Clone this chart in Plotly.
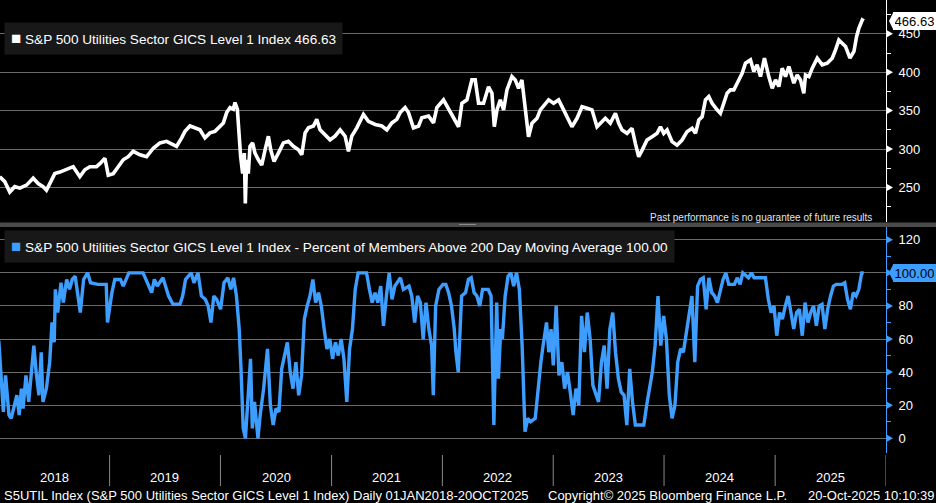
import pandas as pd
import plotly.graph_objects as go

# ---------------- DATA ----------------
# time in years since 2018-01-01 (decimal)
px_t = [0.009,0.054,0.099,0.144,0.190,0.250,0.310,0.355,0.400,0.430,0.460,0.505,0.551,0.611,0.671,0.731,0.776,0.821,0.881,0.912,0.957,0.987,
        1.032,1.077,1.122,1.167,1.212,1.273,1.333,1.393,1.453,1.513,1.573,1.603,1.649,1.679,1.724,1.769,1.814,1.859,1.904,1.949,1.995,
        2.025,2.055,2.085,2.115,2.130,2.151,2.166,2.181,2.199,2.214,2.223,2.235,2.250,2.265,2.289,2.310,2.341,2.371,2.401,2.431,2.452,2.482,2.521,2.566,2.611,2.656,2.702,2.732,2.762,2.792,2.837,2.867,2.897,2.942,2.987,
        3.032,3.078,3.123,3.153,3.183,3.228,3.288,3.333,3.394,3.454,3.499,3.544,3.589,3.619,3.664,3.694,3.739,3.785,3.815,3.875,3.920,3.950,
        4.010,4.055,4.100,4.146,4.176,4.221,4.266,4.296,4.326,4.371,4.416,4.447,4.468,4.492,4.522,4.552,4.582,4.627,4.657,4.687,4.717,4.747,4.777,4.808,4.853,4.883,4.928,4.958,
        5.003,5.048,5.093,5.123,5.168,5.214,5.259,5.304,5.349,5.394,5.424,5.469,5.514,5.560,5.590,5.620,5.665,5.710,5.740,5.770,5.800,5.845,5.891,5.936,5.966,5.996,
        6.026,6.071,6.116,6.161,6.206,6.252,6.282,6.312,6.342,6.372,6.402,6.432,6.477,6.507,6.537,6.567,6.597,6.628,6.658,6.703,6.733,6.778,6.808,6.838,6.868,6.904,6.943,6.974,
        7.004,7.034,7.064,7.094,7.124,7.169,7.199,7.229,7.259,7.274,7.305,7.335,7.380,7.425,7.470,7.515,7.545,7.575,7.605,7.635,7.675,7.711,7.735,7.756,7.786,7.800]
px_v = [264,257.5,244,251,249,253,262,255,251,246.5,255,268,270,273,277,264,273,277,277,281,288,266,
        268,277,286,290,297,292.5,290,301,308,310,306,303.5,314.5,323,330,327.6,325,314.5,321,323,330,
        334,347.4,354,351.8,360.5,351.8,316.7,290,268,294.7,229,286,268,303.5,308,294.7,286,279,299,316.7,299,283.8,294.7,308,310,303.5,299,292.5,321,327.6,330,338.6,325,318.9,312,
        316.7,325,316.7,297,316.7,327.6,345,336,332,330,325,334,338.6,347.4,354,347.4,327.6,330,340.8,343,334,354,
        363.9,353,342,329,359.6,364,390,390,359.6,359.6,381,372.6,329,351,364,351,377,394.3,390,379,390,355,316,333.5,340,351,359.6,364,
        359.6,364,351,342,329,340,355,353,351,329,333.5,340,333.5,346.5,333.5,324.8,320.4,327,307.4,290,298.3,311.7,316,320.4,329,320.4,
        324.8,309.6,305,311.7,322.6,327,320.4,337.8,342,364,368.3,359.6,351,346.5,359.6,372.6,377,377,385.7,398.7,411.7,416,401,409.6,394.3,418.3,394.3,379,
        390,381.3,405.2,394.3,407.4,385.7,396.5,390,372.6,396.5,394.3,405.2,418.3,409.6,411.7,418.3,429,442,437.8,433.5,418.3,427,446.5,457.4,468,466.63]

pct_t = [0.000,0.026,0.041,0.061,0.092,0.112,0.143,0.163,0.184,0.204,0.219,0.245,0.270,0.286,0.316,0.337,0.362,0.383,0.398,0.429,0.459,0.480,0.500,0.510,0.531,0.561,0.582,0.612,0.638,0.663,0.689,0.735,0.765,0.801,0.827,0.893,0.969,0.980,
         1.020,1.046,1.097,1.122,1.173,1.301,1.337,1.378,1.403,1.429,1.480,1.531,1.571,1.633,1.658,1.684,1.735,1.760,1.796,1.827,1.862,1.888,1.913,1.939,1.964,
         2.000,2.031,2.066,2.092,2.117,2.143,2.168,2.184,2.204,2.224,2.245,2.270,2.286,2.306,2.337,2.357,2.388,2.423,2.449,2.474,2.500,2.526,2.551,2.577,2.602,2.628,2.653,2.679,2.704,2.730,2.755,2.781,2.806,2.832,2.857,2.883,2.908,2.934,2.959,2.985,
         3.010,3.036,3.061,3.087,3.112,3.138,3.163,3.189,3.214,3.240,3.316,3.342,3.367,3.393,3.418,3.444,3.469,3.495,3.520,3.546,3.571,3.622,3.648,3.699,3.724,3.750,3.776,3.801,3.827,3.852,3.878,3.903,3.918,3.939,3.969,
         4.005,4.031,4.056,4.082,4.107,4.122,4.143,4.173,4.209,4.235,4.260,4.286,4.311,4.337,4.362,4.413,4.439,4.464,4.490,4.505,4.526,4.541,4.566,4.592,4.617,4.643,4.668,4.694,4.719,4.745,4.770,4.796,4.837,4.857,4.888,4.908,4.939,4.959,4.980,
         5.000,5.026,5.051,5.077,5.102,5.128,5.153,5.179,5.204,5.230,5.255,5.281,5.306,5.332,5.357,5.383,5.408,5.434,5.459,5.485,5.510,5.536,5.561,5.587,5.612,5.638,5.663,5.689,5.714,5.740,5.791,5.816,5.842,5.867,5.893,5.918,5.944,5.969,5.995,
         6.020,6.046,6.071,6.097,6.122,6.148,6.173,6.199,6.224,6.250,6.276,6.301,6.327,6.352,6.378,6.403,6.429,6.454,6.480,6.505,6.531,6.556,6.582,6.633,6.658,6.684,6.709,6.760,6.786,6.811,6.913,6.939,6.964,6.990,
         7.015,7.041,7.066,7.092,7.117,7.143,7.168,7.194,7.219,7.245,7.270,7.296,7.321,7.347,7.372,7.398,7.423,7.449,7.474,7.500,7.526,7.551,7.602,7.628,7.653,7.679,7.704,7.730,7.755,7.781,7.800]
pct_v = [59,28,16,38,14,12,20,26,14,30,18,38,22,36,56,40,26,52,22,30,46,70,58,90,76,94,82,96,90,96,98,76,96,100,94,93,93,70,
         88,96,96,92,100,100,94,88,96,92,97,86,81,81,86,96,100,94,100,86,84,80,70,86,84,
         78,94,97,90,97,86,66,42,6,0,22,48,6,22,0,14,30,54,20,8,18,16,42,50,58,40,30,46,26,38,72,80,86,96,82,88,80,66,54,60,
         48,58,50,60,48,22,54,66,90,100,100,90,82,88,82,92,68,86,100,84,92,97,90,92,86,70,86,82,60,82,66,56,26,80,90,
         93,93,88,80,66,52,40,86,88,96,97,88,86,80,90,90,86,8,82,36,66,60,86,98,100,92,100,90,56,4,12,10,12,26,46,56,70,52,66,
         44,80,38,46,30,40,28,14,30,20,74,52,76,60,32,26,22,46,56,30,66,76,52,36,28,26,8,42,22,8,8,8,20,30,40,56,86,56,74,
         60,26,12,20,46,54,52,64,76,86,46,92,96,97,78,97,88,86,82,88,96,100,93,93,97,93,100,97,100,97,97,84,76,80,
         62,76,72,80,86,76,66,76,78,62,82,70,76,80,68,80,81,66,78,86,92,93,93,94,84,78,88,86,90,100,100.00]

years = [2018, 2019, 2020, 2021, 2022, 2023, 2024, 2025]
px_ticks = [250, 300, 350, 400, 450]
pct_ticks = [0, 20, 40, 60, 80, 100, 120]

px_name = "S&P 500 Utilities Sector GICS Level 1 Index"
pct_name = "S&P 500 Utilities Sector GICS Level 1 Index - Percent of Members Above 200 Day Moving Average"

# ---------------- STYLE ----------------
W, H = 936, 503
XR = 886  # right edge of plot area in px
BLUE = "#3d9eff"
GRID = "#6b6b6b"
FONT = "Liberation Sans"
base = pd.Timestamp("2018-01-01")


def to_dates(ts):
    return [base + pd.Timedelta(days=t * 365.25) for t in ts]


def py(p):  # pixel row -> paper y
    return 1 - p / H


def pxx(p):  # pixel column -> paper x (paper spans the plot area 0..XR)
    return p / XR


fig = go.Figure()
fig.add_trace(go.Scatter(x=to_dates(px_t), y=px_v, mode="lines",
                         line=dict(color="white", width=3.6), xaxis="x", yaxis="y",
                         hoverinfo="skip"))
fig.add_trace(go.Scatter(x=to_dates(pct_t), y=pct_v, mode="lines",
                         line=dict(color=BLUE, width=3.4), xaxis="x", yaxis="y2",
                         hoverinfo="skip"))

yaxis_common = dict(side="right", anchor="x", showgrid=True, gridcolor=GRID, gridwidth=1,
                    zeroline=False, showline=True, linewidth=1, ticks="outside", ticklen=9,
                    tickcolor="rgba(0,0,0,0)", tickfont=dict(color="white", size=13, family=FONT),
                    tickmode="array")

# the last-value badge of the lower panel sits over its "100" label (as in the original)
pct_labels = ["" if v == round(pct_v[-1]) else str(v) for v in pct_ticks]

fig.update_layout(
    width=W, height=H, margin=dict(l=0, r=W - XR, t=0, b=0),
    paper_bgcolor="black", plot_bgcolor="black", showlegend=False,
    xaxis=dict(domain=[0, 1], range=["2018-01-05", "2026-01-01"], showgrid=False,
               zeroline=False, showticklabels=False, ticks="", showline=False, anchor="y2"),
    yaxis=dict(domain=[py(222), 1], range=[205, 494], tickvals=px_ticks,
               ticktext=[str(v) for v in px_ticks], linecolor="white",
               minor=dict(ticks="outside", ticklen=4, tickcolor="white", dtick=25, tick0=0, showgrid=False),
               **yaxis_common),
    yaxis2=dict(domain=[py(453), py(227)], range=[-8.9, 127.7], tickvals=pct_ticks,
                ticktext=pct_labels, linecolor=BLUE,
                minor=dict(ticks="outside", ticklen=4, tickcolor=BLUE, dtick=10, tick0=0, showgrid=False),
                **yaxis_common),
)

shapes = []
# separator between panels
shapes.append(dict(type="rect", xref="paper", yref="paper", x0=0, x1=pxx(W),
                   y0=py(227), y1=py(222.5), fillcolor="#4a4a4a", line=dict(width=0), layer="above"))
shapes.append(dict(type="line", xref="paper", yref="paper", x0=pxx(459), x1=pxx(476),
                   y0=py(224.5), y1=py(224.5), line=dict(color="#8a8a8a", width=1)))
# axis arrow markers at major ticks
for v in px_ticks:
    shapes.append(dict(type="path", xref="paper", yref="y", xsizemode="pixel", ysizemode="pixel",
                       xanchor=1, yanchor=v, path="M0,-4 L7,0 L0,4 Z",
                       fillcolor="white", line=dict(width=0)))
for v in pct_ticks:
    shapes.append(dict(type="path", xref="paper", yref="y2", xsizemode="pixel", ysizemode="pixel",
                       xanchor=1, yanchor=v, path="M0,-4 L7,0 L0,4 Z",
                       fillcolor=BLUE, line=dict(width=0)))
# year boundary lines on time axis
for y in years[1:] + [years[-1] + 1]:
    shapes.append(dict(type="line", xref="x", yref="paper", x0=f"{y}-01-01", x1=f"{y}-01-01",
                       y0=py(455), y1=py(486), line=dict(color="#8a8a8a", width=1)))

annotations = []
# last-value badges with pointers
badges = [("y", px_v[-1], "white"), ("y2", pct_v[-1], BLUE)]
for yref, val, col in badges:
    annotations.append(dict(xref="paper", x=pxx(W), xanchor="right", yref=yref, y=val, yanchor="middle",
                            text=f"{val:.2f}", showarrow=False, bgcolor=col, width=39, height=14,
                            borderpad=1, borderwidth=1, bordercolor=col,
                            font=dict(color="black", size=13, family=FONT)))
    shapes.append(dict(type="path", xref="paper", yref=yref, xsizemode="pixel", ysizemode="pixel",
                       xanchor=pxx(W - 43), yanchor=val, path="M0,-8 L-4,0 L0,8 Z",
                       fillcolor=col, line=dict(width=0)))


# legends
def legend(y_center, color, label):
    return dict(xref="paper", yref="paper", x=pxx(4), xanchor="left", y=py(y_center), yanchor="middle",
                text=f"<span style='color:{color};font-size:17px'>■</span> {label}",
                showarrow=False, bgcolor="#181818", borderpad=6, align="left",
                font=dict(color="white", size=13.6, family=FONT))


annotations.append(legend(39, "white", f"{px_name} {px_v[-1]:.2f}"))
annotations.append(legend(247, BLUE, f"{pct_name} {pct_v[-1]:.2f}"))

annotations.append(dict(xref="paper", yref="paper", x=pxx(874), xanchor="right", y=py(217), yanchor="middle",
                        text="Past performance is no guarantee of future results", showarrow=False,
                        font=dict(color="#dfe8f0", size=10, family=FONT)))

# year labels (mid-year)
for y in years:
    annotations.append(dict(xref="x", yref="paper", x=f"{y}-07-02", y=py(477), yanchor="middle",
                            text=str(y), showarrow=False, font=dict(color="white", size=13, family=FONT)))

# footer
footer = [(2, "left", "S5UTIL Index (S&P 500 Utilities Sector GICS Level 1 Index) Daily 01JAN2018-20OCT2025"),
          (546, "left", "Copyright\u00a9 2025 Bloomberg Finance L.P."),
          (936, "right", "20-Oct-2025 10:10:39")]
for xp, anc, txt in footer:
    annotations.append(dict(xref="paper", yref="paper", x=pxx(xp), xanchor=anc, y=py(495), yanchor="middle",
                            text=txt, showarrow=False, font=dict(color="white", size=13, family=FONT)))

fig.update_layout(shapes=shapes, annotations=annotations)
fig.write_html("out.html")
